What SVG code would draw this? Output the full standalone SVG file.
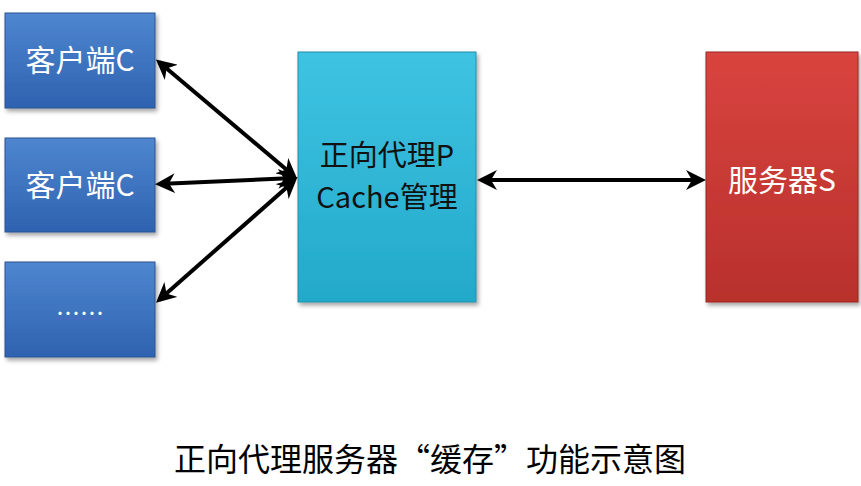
<svg xmlns="http://www.w3.org/2000/svg" width="861" height="486" viewBox="0 0 861 486">
<defs>
<linearGradient id="gb" x1="0" y1="0" x2="0" y2="1"><stop offset="0" stop-color="#4f86cf"/><stop offset="1" stop-color="#2e62b0"/></linearGradient>
<linearGradient id="gc" x1="0" y1="0" x2="0" y2="1"><stop offset="0" stop-color="#3ec3e3"/><stop offset="1" stop-color="#23a9ca"/></linearGradient>
<linearGradient id="gr" x1="0" y1="0" x2="0" y2="1"><stop offset="0" stop-color="#d9443f"/><stop offset="1" stop-color="#b8302c"/></linearGradient>
<marker id="ah" viewBox="0 0 10 10" refX="8" refY="5" markerWidth="5" markerHeight="5" orient="auto-start-reverse"><path d="M0,0 L10,5 L0,10 L3,5 Z" fill="#000"/></marker>
<filter id="sh" x="-10%" y="-10%" width="130%" height="130%"><feDropShadow dx="2" dy="3" stdDeviation="2" flood-color="#000" flood-opacity="0.35"/></filter>
</defs>
<style>
.t{font-family:"Microsoft YaHei","Noto Sans CJK SC",sans-serif;fill:#fff;font-size:30px;text-anchor:middle}
.c{stroke:#000;stroke-width:4;fill:none;marker-start:url(#ah);marker-end:url(#ah)}
</style>
<rect width="861" height="486" fill="#fff"/>
<g id="client1"><rect x="5" y="13" width="150" height="95" fill="url(#gb)" stroke="#2a5592" filter="url(#sh)"/><text class="t" x="80" y="71">客户端C</text></g>
<g id="client2"><rect x="5" y="138" width="150" height="94" fill="url(#gb)" stroke="#2a5592" filter="url(#sh)"/><text class="t" x="80" y="196">客户端C</text></g>
<g id="client3"><rect x="5" y="262" width="150" height="95" fill="url(#gb)" stroke="#2a5592" filter="url(#sh)"/><text class="t" x="80" y="322" style="font-size:24px">……</text></g>
<g id="proxy"><rect x="298" y="52" width="178" height="250" fill="url(#gc)" stroke="#1f8eaa" filter="url(#sh)"/><text class="t" x="387" y="166" style="fill:#111;font-size:29px">正向代理P</text><text class="t" x="387" y="208" style="fill:#111;font-size:29px">Cache管理</text></g>
<g id="server"><rect x="706" y="52" width="152" height="250" fill="url(#gr)" stroke="#9a2724" filter="url(#sh)"/><text class="t" x="782" y="191">服务器S</text></g>
<g id="connectors">
<line class="c" x1="159" y1="62" x2="294" y2="176"/>
<line class="c" x1="159" y1="184" x2="294" y2="178"/>
<line class="c" x1="159" y1="300" x2="294" y2="181"/>
<line class="c" x1="481" y1="180" x2="702" y2="180"/>
</g>
<text x="430" y="471" style="font-family:'Microsoft YaHei','Noto Sans CJK SC',sans-serif;font-size:32px;text-anchor:middle;fill:#000">正向代理服务器“缓存”功能示意图</text>
</svg>
